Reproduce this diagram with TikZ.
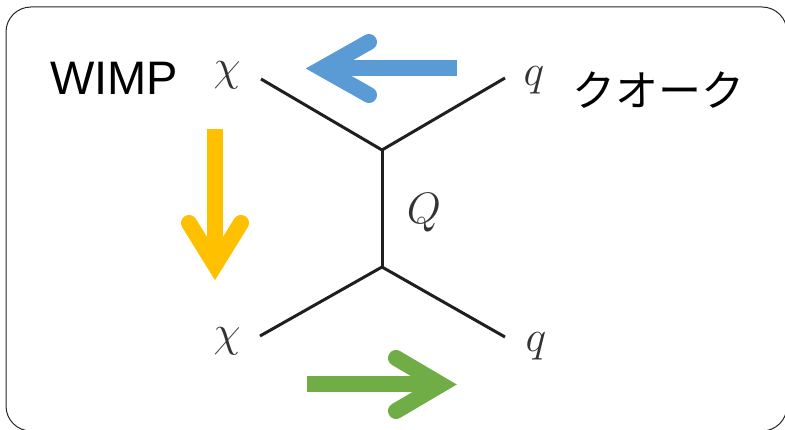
\RequirePackage{fix-cm}
\documentclass[tikz,border=0pt]{standalone}
\usepackage{fontspec}
\setmainfont{Liberation Sans}
\newfontfamily\jpfont{Noto Sans CJK JP}
\usetikzlibrary{positioning}
\definecolor{ArrBlue}{HTML}{5B9BD5}
\definecolor{ArrYellow}{HTML}{FFC000}
\definecolor{ArrGreen}{HTML}{70AD47}

\begin{document}
\begin{tikzpicture}[x=1pt,y=-1pt,
  particle/.style={text=black!80, inner sep=0pt, font=\fontsize{44}{44}\selectfont},
  leg/.style={line width=3pt, black!88},
  shaft/.style={line width=16pt, line cap=butt},
  barb/.style={line width=16pt, line cap=round, line join=miter}]
  \useasboundingbox (0,0) rectangle (785,430);
  \draw[black!85, line width=1pt, rounded corners=25pt] (6,7) rectangle (787,431);
  % labels
  \node[inner sep=0pt, anchor=base west, font=\fontsize{47}{47}\selectfont] (wimp) at (50,95) {WIMP};
  \node[inner sep=0pt, font=\jpfont\fontsize{43}{43}\selectfont] (quark) at (658,90) {クオーク};
  \node[particle] (chiA) at (227,75) {$\chi$};
  \node[particle] (chiB) at (227,341) {$\chi$};
  \node[particle] (qA) at (534,80) {$q$};
  \node[particle] (qB) at (536,346) {$q$};
  \node[particle] (Q) at (424,213) {$Q$};
  % diagram
  \coordinate (vtop) at (382,150);
  \coordinate (vbot) at (382,267);
  \coordinate (endA) at (261,79);
  \coordinate (endB) at (505,78);
  \coordinate (endC) at (260,336);
  \coordinate (endD) at (505,337);
  \draw[leg] (endA) -- (vtop) -- (endB);
  \draw[leg] (vtop) -- (vbot);
  \draw[leg] (endC) -- (vbot) -- (endD);
  % arrows
  \draw[shaft, ArrBlue] (457,68.5) -- (322,68.5);
  \draw[barb, ArrBlue] (369,42) -- (322,68.5) -- (369,95);
  \draw[shaft, ArrYellow] (215,129) -- (215,265);
  \draw[barb, ArrYellow] (189,223) -- (215,265) -- (241,223);
  \draw[shaft, ArrGreen] (307,384.5) -- (441,384.5);
  \draw[barb, ArrGreen] (396,358) -- (441,384.5) -- (396,411);
\end{tikzpicture}
\end{document}
